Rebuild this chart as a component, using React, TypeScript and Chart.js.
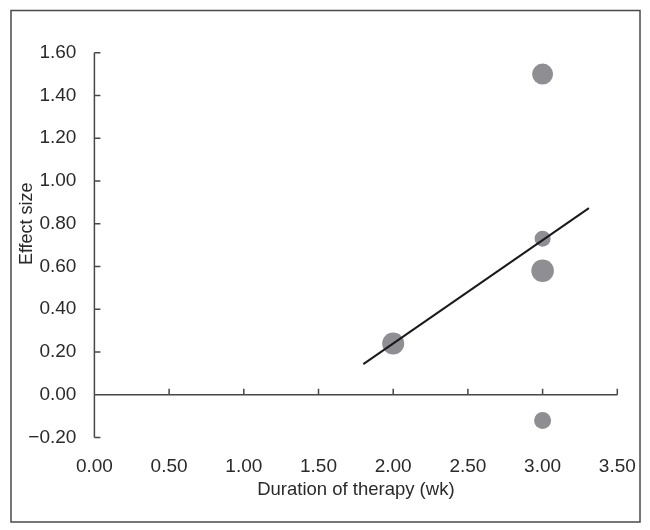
import React, { useEffect, useRef } from "react";
import { Chart, registerables } from "chart.js";

Chart.register(...registerables);

// ---- data ----
const durationWeeks = [3.0, 3.0, 3.0, 2.0, 3.0];
const effectSizes = [1.5, 0.73, 0.58, 0.24, -0.12];
const markerRadius = [10.5, 8, 11.3, 11, 8.5];

const fitLineX = [1.8, 3.31];
const fitLineY = [0.143, 0.873];

const xMin = 0;
const xMax = 3.5;
const xStep = 0.5;
const yMin = -0.2;
const yMax = 1.6;
const yStep = 0.2;

const xTitle = "Duration of therapy (wk)";
const yTitle = "Effect size";

const FONT = "'Liberation Sans', Arial, Helvetica, sans-serif";
const TEXT = "#2a2a2a";
const AXIS = "#474747";

const fmt = (v: number) => {
  const s = Number(v).toFixed(2);
  return s.startsWith("-") ? "\u2212" + s.slice(1) : s;
};

const decorPlugin = {
  id: "decor",
  beforeDraw(chart: any) {
    const ctx = chart.ctx;
    ctx.save();
    ctx.fillStyle = "#ffffff";
    ctx.fillRect(0, 0, chart.width, chart.height);
    ctx.strokeStyle = "#4a4a4a";
    ctx.lineWidth = 1.5;
    ctx.strokeRect(11, 10.5, 629, 511.5);
    ctx.restore();
  },
  beforeDatasetsDraw(chart: any) {
    const ctx = chart.ctx;
    const xs = chart.scales.x;
    const ys = chart.scales.y;
    const x0 = xs.getPixelForValue(xMin);
    const x1 = xs.getPixelForValue(xMax);
    const yTop = ys.getPixelForValue(yMax);
    const yBot = ys.getPixelForValue(yMin);
    const yZero = ys.getPixelForValue(0);
    ctx.save();
    ctx.strokeStyle = AXIS;
    ctx.lineWidth = 1.5;
    ctx.beginPath();
    // y axis
    ctx.moveTo(x0, yTop);
    ctx.lineTo(x0, yBot);
    // y ticks pointing inward
    ys.ticks.forEach((t: any) => {
      const p = ys.getPixelForValue(t.value);
      ctx.moveTo(x0, p);
      ctx.lineTo(x0 + 6, p);
    });
    // x axis at zero
    ctx.moveTo(x0, yZero);
    ctx.lineTo(x1, yZero);
    xs.ticks.forEach((t: any) => {
      if (t.value === xMin) return;
      const p = xs.getPixelForValue(t.value);
      ctx.moveTo(p, yZero);
      ctx.lineTo(p, yZero - 6);
    });
    ctx.stroke();

    // y title centred on the positive range
    const cy = ys.getPixelForValue((yMax + 0) / 2);
    ctx.fillStyle = TEXT;
    ctx.font = `18px ${FONT}`;
    ctx.textAlign = "center";
    ctx.textBaseline = "middle";
    ctx.translate(27, cy);
    ctx.rotate(-Math.PI / 2);
    ctx.fillText(yTitle, 0, 0);
    ctx.restore();
  },
};

export default function App() {
  const ref = useRef<HTMLCanvasElement | null>(null);

  useEffect(() => {
    if (!ref.current) return;
    const points = durationWeeks.map((x, i) => ({ x, y: effectSizes[i] }));
    const line = fitLineX.map((x, i) => ({ x, y: fitLineY[i] }));
    const chart = new Chart(ref.current, {
      type: "scatter",
      data: {
        datasets: [
          {
            type: "line",
            data: line,
            borderColor: "#1a1a1a",
            borderWidth: 2,
            pointRadius: 0,
            fill: false,
            order: 1,
          } as any,
          {
            data: points,
            backgroundColor: "#8e8e93",
            borderWidth: 0,
            pointRadius: markerRadius,
            pointHoverRadius: markerRadius,
            order: 2,
          },
        ],
      },
      plugins: [decorPlugin],
      options: {
        responsive: false,
        animation: false,
        events: [],
        layout: { padding: { left: 0, top: 52.7, right: 32.7, bottom: 0 } },
        plugins: { legend: { display: false }, tooltip: { enabled: false } },
        scales: {
          x: {
            type: "linear",
            min: xMin,
            max: xMax,
            grid: { display: false },
            border: { display: false },
            ticks: {
              stepSize: xStep,
              padding: 9.5,
              color: TEXT,
              font: { family: FONT, size: 19 },
              callback: (v: any) => fmt(v),
              maxRotation: 0,
            },
            title: {
              display: true,
              text: xTitle,
              color: TEXT,
              font: { family: FONT, size: 18.5 },
              padding: { top: 0, bottom: 29 },
            },
            afterFit: (s: any) => {
              s.height = 92.5;
            },
          },
          y: {
            type: "linear",
            min: yMin,
            max: yMax,
            grid: { display: false },
            border: { display: false },
            ticks: {
              stepSize: yStep,
              padding: 10,
              color: TEXT,
              font: { family: FONT, size: 19 },
              callback: (v: any) => fmt(v),
            },
            afterFit: (s: any) => {
              s.width = 94.4;
            },
          },
        },
      },
    });
    return () => chart.destroy();
  }, []);

  return (
    <div style={{ position: "fixed", left: 0, top: 0, width: 650, height: 530 }}>
      <canvas ref={ref} width={650} height={530} style={{ display: "block" }} />
    </div>
  );
}
